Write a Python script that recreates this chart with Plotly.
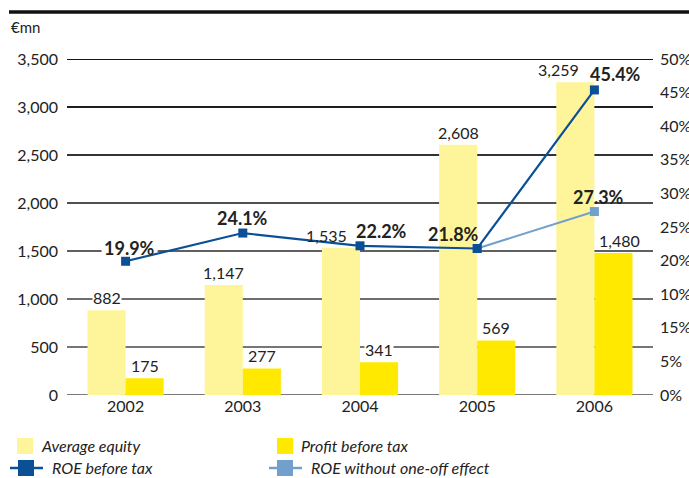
import plotly.graph_objects as go

# ---- data ----
years = ["2002", "2003", "2004", "2005", "2006"]
average_equity = [882, 1147, 1535, 2608, 3259]
profit_before_tax = [175, 277, 341, 569, 1480]
roe_before_tax = [19.9, 24.1, 22.2, 21.8, 45.4]
roe_no_oneoff_years = ["2005", "2006"]
roe_no_oneoff = [21.8, 27.3]

left_ticks = [0, 500, 1000, 1500, 2000, 2500, 3000, 3500]
left_ticktext = ["0", "500", "1,000", "1,500", "2,000", "2,500", "3,000", "3,500"]
right_ticks = [0, 5, 10, 15, 20, 25, 30, 35, 40, 45, 50]
right_ticktext = ["0%", "5%", "15%", "10%", "20%", "25%", "30%", "35%", "40%", "45%", "50%"]

FONT = "Lato"
C_EQ = "#FEF59B"
C_PBT = "#FFE900"
C_ROE = "#0B4F97"
C_ROE2 = "#72A0CC"
TXT = "#222222"

# plot area in pixels
L, R, T, B = 67, 653, 59, 395
W, H = 689, 478
PW, PH = R - L, B - T


def px_x(p):
    return (p - L) / PW


def px_y(p):
    return (B - p) / PH


fig = go.Figure()

fig.add_trace(go.Bar(x=years, y=average_equity, marker_color=C_EQ, name="Average equity",
                     marker_line_width=0))
fig.add_trace(go.Bar(x=years, y=profit_before_tax, marker_color=C_PBT, name="Profit before tax",
                     marker_line_width=0))
fig.add_trace(go.Scatter(x=roe_no_oneoff_years, y=roe_no_oneoff, yaxis="y2", mode="lines+markers",
                         line=dict(color=C_ROE2, width=2),
                         marker=dict(symbol="square", size=9, color=C_ROE2),
                         name="ROE without one-off effect"))
fig.add_trace(go.Scatter(x=years, y=roe_before_tax, yaxis="y2", mode="lines+markers",
                         line=dict(color=C_ROE, width=2.2),
                         marker=dict(symbol="square", size=9, color=C_ROE),
                         name="ROE before tax"))

annotations = []
# bar value labels
eq_dx = [0, 0, -15, 0, -17]
eq_bg = [True, False, False, False, False]
for i, v in enumerate(average_equity):
    annotations.append(dict(x=i, y=v, xref="x", yref="y", text=f"{v:,}", showarrow=False,
                            xshift=-19 + eq_dx[i], yshift=2, yanchor="bottom",
                            bgcolor="white" if eq_bg[i] else "rgba(0,0,0,0)", borderpad=0,
                            font=dict(family=FONT, size=16, color=TXT)))
pbt_dx = [0, 0, 0, 0, 6]
pbt_bg = [False, False, True, False, False]
for i, v in enumerate(profit_before_tax):
    annotations.append(dict(x=i, y=v, xref="x", yref="y", text=f"{v:,}", showarrow=False,
                            xshift=19 + pbt_dx[i], yshift=2, yanchor="bottom",
                            bgcolor="white" if pbt_bg[i] else "rgba(0,0,0,0)", borderpad=0,
                            font=dict(family=FONT, size=16, color=TXT)))
# ROE labels
roe_dx = [4, 0, 21, -24, 21]
roe_dy = [13, 15, 15, 15, 16]
for i, v in enumerate(roe_before_tax):
    annotations.append(dict(x=i, y=v, xref="x", yref="y2", text=f"<b>{v}%</b>", showarrow=False,
                            xshift=roe_dx[i], yshift=roe_dy[i],
                            font=dict(family=FONT, size=18, color=TXT)))
annotations.append(dict(x=years.index(roe_no_oneoff_years[-1]), y=roe_no_oneoff[-1], xref="x",
                        yref="y2", text=f"<b>{roe_no_oneoff[-1]}%</b>", showarrow=False,
                        xshift=4, yshift=15, font=dict(family=FONT, size=18, color=TXT)))

# unit label
annotations.append(dict(x=px_x(9), y=px_y(27), xref="paper", yref="paper", text="€mn",
                        showarrow=False, xanchor="left", yanchor="middle",
                        font=dict(family=FONT, size=15, color=TXT)))

shapes = []
# gridlines (darker toward top)
grid_colors = ["#7a7a7a", "#767676", "#6e6e6e", "#606060", "#505050", "#333333", "#1e1e1e", "#151515"]
for v, c in zip(left_ticks, grid_colors):
    shapes.append(dict(type="line", xref="paper", yref="y", x0=0, x1=1, y0=v, y1=v,
                       line=dict(color=c, width=2), layer="below"))

# white knock-out behind the first ROE label (keeps the marker visible)
shapes.append(dict(type="rect", xref="x", yref="y2", xsizemode="pixel", ysizemode="pixel",
                   xanchor=0, yanchor=roe_before_tax[0], x0=4 - 28, x1=4 + 28, y0=13 - 8, y1=13 + 8,
                   fillcolor="white", line=dict(width=0), layer="below"))

# top heavy rule
shapes.append(dict(type="line", xref="paper", yref="paper", x0=px_x(9), x1=px_x(W + 2),
                   y0=px_y(12), y1=px_y(12), line=dict(color="#111111", width=3.5)))

# manual legend
legend_items = [
    ("Average equity", "bar", C_EQ, 17, 446),
    ("Profit before tax", "bar", C_PBT, 277, 446),
    ("ROE before tax", "line", C_ROE, 10, 468),
    ("ROE without one-off effect", "line", C_ROE2, 269, 468),
]
for label, kind, col, x0, yc in legend_items:
    if kind == "bar":
        shapes.append(dict(type="rect", xref="paper", yref="paper", x0=px_x(x0), x1=px_x(x0 + 16),
                           y0=px_y(yc - 8), y1=px_y(yc + 8), fillcolor=col, line=dict(width=0)))
        tx = x0 + 22
    else:
        shapes.append(dict(type="line", xref="paper", yref="paper", x0=px_x(x0), x1=px_x(x0 + 33),
                           y0=px_y(yc), y1=px_y(yc), line=dict(color=col, width=2.5)))
        shapes.append(dict(type="rect", xref="paper", yref="paper", x0=px_x(x0 + 8), x1=px_x(x0 + 24),
                           y0=px_y(yc - 8), y1=px_y(yc + 8), fillcolor=col, line=dict(width=0)))
        tx = x0 + 40
    annotations.append(dict(x=px_x(tx), y=px_y(yc), xref="paper", yref="paper",
                            text=f"<i>{label}</i>", showarrow=False, xanchor="left",
                            yanchor="middle", font=dict(family=FONT, size=16, color=TXT)))

fig.update_layout(
    width=W, height=H,
    margin=dict(l=L, r=W - R, t=T, b=H - B, autoexpand=False),
    paper_bgcolor="white", plot_bgcolor="white",
    barmode="group", bargap=0.35, bargroupgap=0,
    showlegend=False,
    font=dict(family=FONT, size=16, color=TXT),
    xaxis=dict(type="category", range=[-0.5, 4.5], autorange=False, showgrid=False,
               zeroline=False, showline=False, ticks="",
               tickfont=dict(family=FONT, size=16, color=TXT), fixedrange=True),
    yaxis=dict(range=[0, 3500], autorange=False, tickvals=left_ticks, ticktext=left_ticktext,
               showgrid=False, zeroline=False, showline=False, ticks="", ticklabelstandoff=8,
               tickfont=dict(family=FONT, size=16, color=TXT)),
    yaxis2=dict(range=[0, 50], autorange=False, tickvals=right_ticks, ticktext=right_ticktext,
                overlaying="y", side="right", showgrid=False, zeroline=False, showline=False,
                ticks="", ticklabelstandoff=6, tickfont=dict(family=FONT, size=16, color=TXT)),
    shapes=shapes,
    annotations=annotations,
)

fig.write_html("out.html", config={"displayModeBar": False},
               post_script="document.body.style.margin='0';document.body.style.overflow='hidden';")
